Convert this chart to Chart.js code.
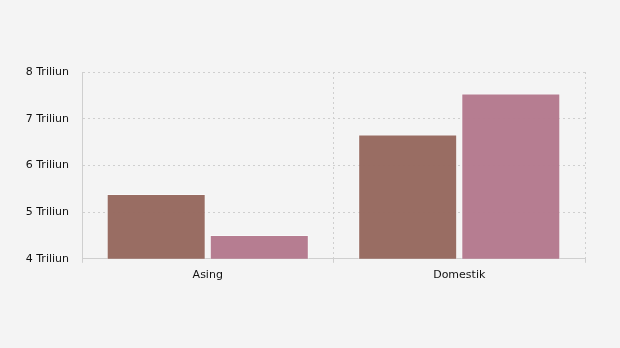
<!DOCTYPE html>
<html>
<head>
<meta charset="utf-8">
<script src="https://cdn.jsdelivr.net/npm/chart.js@4"></script>
<style>
  html, body { margin: 0; padding: 0; background: #f4f4f4; }
  #wrap { width: 620px; height: 348px; }
</style>
</head>
<body>
<div id="wrap"><canvas id="chart"></canvas></div>
<script>
const categories = ["Asing", "Domestik"];
const seriesA = [5.39, 6.66];
const seriesB = [4.51, 7.54];
const yTicks = [4, 5, 6, 7, 8];

const ctx = document.getElementById("chart");

new Chart(ctx, {
    type: "bar",
    data: {
        labels: categories,
        datasets: [
            {
                label: "Seri 1",
                data: seriesA,
                backgroundColor: "rgba(150, 104, 94, 0.97)",
                borderColor: "rgba(255, 255, 255, 0.45)",
                borderWidth: 1,
            },
            {
                label: "Seri 2",
                data: seriesB,
                backgroundColor: "rgba(180, 121, 141, 0.97)",
                borderColor: "rgba(255, 255, 255, 0.45)",
                borderWidth: 1,
            },
        ],
    },
    options: {
        responsive: true,
        maintainAspectRatio: false,
        animation: false,
        categoryPercentage: 0.82,
        barPercentage: 0.96,
        layout: {
            padding: { top: 72, right: 35, bottom: 60, left: 0 },
        },
        plugins: {
            legend: { display: false },
            tooltip: { enabled: false },
        },
        scales: {
            x: {
                grid: {
                    offset: true,
                    color: "#cfcfcf",
                    lineWidth: 1,
                    tickLength: 4,
                },
                border: { display: true, color: "#cfcfcf", dash: [2, 3] },
                ticks: {
                    color: "#111",
                    font: { family: "DejaVu Sans", size: 11 },
                    padding: 6,
                },
            },
            y: {
                min: 4,
                max: 8,
                afterBuildTicks: (s) => {
                    s.ticks = yTicks.map((v) => ({ value: v }));
                },
                afterFit: (s) => {
                    s.width = 82;
                },
                grid: {
                    color: "#cfcfcf",
                    lineWidth: 1,
                    drawTicks: false,
                },
                border: { display: true, color: "#cfcfcf", dash: [2, 3] },
                ticks: {
                    color: "#111",
                    font: { family: "DejaVu Sans", size: 11 },
                    padding: 13,
                    callback: (v) => v + " Triliun",
                },
            },
        },
    },
});
</script>
</body>
</html>
